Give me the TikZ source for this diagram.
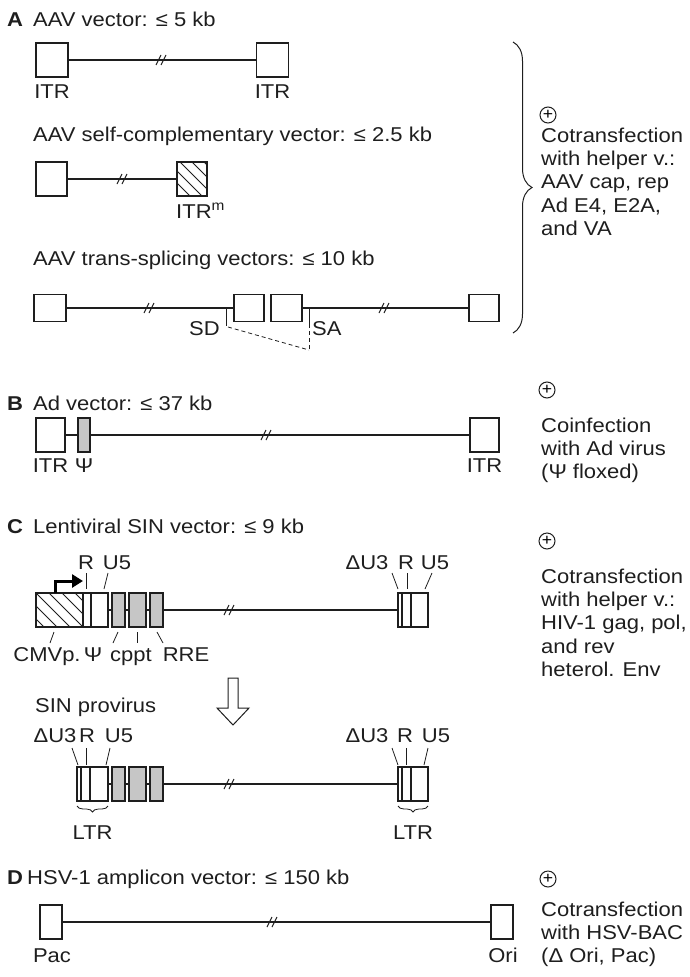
\documentclass[tikz,border=0pt]{standalone}
\usepackage{fontspec}
\setmainfont[FakeStretch=1.1]{Liberation Sans}
\usetikzlibrary{arrows.meta, calc, decorations.pathreplacing}

\definecolor{inkgray}{RGB}{30,30,30}
\definecolor{elemgray}{RGB}{198,198,198}

\tikzset{
    vecbox/.style={rectangle, draw=inkgray, fill=white, line width=1.2pt, inner sep=0pt, minimum width=#1, minimum height=34pt},
    vecbox/.default=31pt,
    greybox/.style={vecbox=#1, fill=elemgray},
    hatchbox/.style 2 args={vecbox=#1, path picture={
        \foreach \k in {#2}
            \draw[line width=1pt, inkgray] ($(path picture bounding box.north west)+(\k pt,0)$) -- ++(60,60);}},
    vecline/.style={draw=inkgray, line width=1.2pt},
    tickline/.style={draw=inkgray, line width=0.8pt},
    splice/.style={draw=inkgray, line width=0.8pt, dash pattern=on 4pt off 3pt},
    vectext/.style={font=\fontsize{20}{23.3}\selectfont, text=inkgray, inner sep=0pt},
    paneltag/.style={vectext, font=\fontsize{20}{23.3}\selectfont\bfseries},
    helpertext/.style={vectext, align=left, anchor=north west},
    plusmark/.style={circle, draw=inkgray, line width=1pt, minimum size=16pt, inner sep=0pt,
        font=\fontsize{16}{16}\selectfont},
    brk/.pic={\draw[inkgray, line width=1.1pt] (-6,5) -- (-1,-5) (-1,5) -- (4,-5);}
}

\begin{document}
\begin{tikzpicture}[x=1pt, y=-1pt]
\useasboundingbox (0,0) rectangle (689,977);

% A: AAV
\node[paneltag, anchor=base west] (tagA) at (7,27) {A};
\node[vectext, anchor=base west] (ttlA1) at (33,27) {AAV vector: ≤ 5 kb};
\node[vecbox=32pt] (a1l) at (52,60) {};
\node[vecbox=32pt] (a1r) at (272.5,60) {};
\draw[vecline] (a1l) -- (a1r);
\pic at (162,60) {brk};
\node[vectext, anchor=base] (itrA1) at (52,98) {ITR};
\node[vectext, anchor=base] (itrA2) at (272.5,98) {ITR};

\node[vectext, anchor=base west] (ttlA2) at (33,141) {AAV self-complementary vector: ≤ 2.5 kb};
\node[vecbox] (a2l) at (51.5,179) {};
\node[hatchbox={30pt}{-33,-21,...,30}] (a2m) at (192,179) {};
\draw[vecline] (a2l) -- (a2m);
\pic at (123,179) {brk};
\node[vectext, anchor=base west] (itrm) at (176,218) {ITR\textsuperscript{m}};

\node[vectext, anchor=base west] (ttlA3) at (33,265) {AAV trans-splicing vectors: ≤ 10 kb};
\node[vecbox=32pt, minimum height=27pt] (a3a) at (50,308) {};
\node[vecbox=30pt, minimum height=27pt] (a3b) at (249,308) {};
\node[vecbox=31pt, minimum height=27pt] (a3c) at (286.5,308) {};
\node[vecbox=30pt, minimum height=27pt] (a3d) at (484,308) {};
\draw[vecline] (a3a) -- (a3b);
\draw[vecline] (a3c) -- (a3d);
\pic at (150,308) {brk};
\pic at (385,308) {brk};
\draw[tickline] (226,308) -- (226,326);
\draw[tickline] (309,308) -- (309,324);
\draw[splice] (228,327) -- (309,350);
\draw[splice] (309,324) -- (309,350);
\node[vectext, anchor=base east] (sd) at (220,335) {SD};
\node[vectext, anchor=base west] (sa) at (312,335) {SA};

\draw[inkgray, line width=1pt, decorate, decoration={brace, amplitude=19pt}] (513,42) -- (513,333);
\node[plusmark] (plusA) at (548,115) {+};
\node[helpertext] (helpA) at (541,127.5) {Cotransfection\\with helper v.:\\AAV cap, rep\\Ad E4, E2A,\\and VA};

% B: Ad
\node[paneltag, anchor=base west] (tagB) at (7,410) {B};
\node[vectext, anchor=base west] (ttlB) at (33,410) {Ad vector: ≤ 37 kb};
\node[vecbox=29pt] (bl) at (50.5,435) {};
\node[greybox=12pt] (bpsi) at (84,435) {};
\node[vecbox=29pt] (br) at (484.5,435) {};
\draw[vecline] (bl) -- (bpsi);
\draw[vecline] (bpsi) -- (br);
\pic at (267,435) {brk};
\node[vectext, anchor=base] (itrB1) at (50.5,472) {ITR};
\node[vectext, anchor=base] (psiB) at (84,472) {Ψ};
\node[vectext, anchor=base] (itrB2) at (484.5,472) {ITR};

\node[plusmark] (plusB) at (547,390) {+};
\node[helpertext] (helpB) at (541,417.5) {Coinfection\\with Ad virus\\(Ψ floxed)};

% C: lentiviral SIN
\node[paneltag, anchor=base west] (tagC) at (7,533) {C};
\node[vectext, anchor=base west] (ttlC) at (33,533) {Lentiviral SIN vector: ≤ 9 kb};
\node[hatchbox={47pt}{-39,-26,...,44}] (cmv) at (59.5,610) {};
\node[vecbox=8pt] (cr) at (87,610) {};
\node[vecbox=17pt] (cu) at (99.5,610) {};
\node[greybox=13pt] (cg1) at (118.5,610) {};
\node[greybox=17pt] (cg2) at (137.5,610) {};
\node[greybox=13pt] (cg3) at (156.5,610) {};
\node[vecbox=4pt] (cd3) at (400,610) {};
\node[vecbox=9pt] (cr3) at (406.5,610) {};
\node[vecbox=17pt] (cu3) at (419.5,610) {};
\draw[vecline] (cu) -- (cg1);
\draw[vecline] (cg1) -- (cg2);
\draw[vecline] (cg2) -- (cg3);
\draw[vecline] (cg3) -- (cd3);
\pic at (230,610) {brk};
\draw[line width=3pt, -{Triangle[length=11pt, width=13pt]}] (55,593) |- (83,581);

\node[vectext, anchor=base] (lR1) at (86,569) {R};
\node[vectext, anchor=base] (lU1) at (117,569) {U5};
\node[vectext, anchor=base] (lD2) at (367,569) {ΔU3};
\node[vectext, anchor=base] (lR2) at (406,569) {R};
\node[vectext, anchor=base] (lU2) at (435,569) {U5};
\draw[tickline] (86,573) -- (86,589);
\draw[tickline] (108,573) -- (104,589);
\draw[tickline] (392,573) -- (398,589);
\draw[tickline] (407,573) -- (407,589);
\draw[tickline] (432,573) -- (425,589);

\draw[tickline] (54,632) -- (50,643);
\draw[tickline] (118,632) -- (113,643);
\draw[tickline] (137,632) -- (137,643);
\draw[tickline] (157,632) -- (163,643);
\node[vectext, anchor=base] (lcmv) at (47,661) {CMVp.};
\node[vectext, anchor=base] (lpsi) at (93,661) {Ψ};
\node[vectext, anchor=base] (lcppt) at (131,661) {cppt};
\node[vectext, anchor=base] (lrre) at (186,661) {RRE};

\node[plusmark] (plusC) at (547,541) {+};
\node[helpertext] (helpC) at (541,568.5) {Cotransfection\\with helper v.:\\HIV-1 gag, pol,\\and rev\\heterol. Env};

% integration
\draw[inkgray, line width=1pt, fill=white] (228,678) -- (238,678) -- (238,708) -- (249,708) -- (233,725) -- (217,708) -- (228,708) -- cycle;

\node[vectext, anchor=base west] (ttlP) at (35,712) {SIN provirus};
\node[vectext, anchor=base] (pD1) at (55,742) {ΔU3};
\node[vectext, anchor=base] (pR1) at (87,742) {R};
\node[vectext, anchor=base] (pU1) at (119,742) {U5};
\node[vectext, anchor=base] (pD2) at (367,742) {ΔU3};
\node[vectext, anchor=base] (pR2) at (405,742) {R};
\node[vectext, anchor=base] (pU2) at (436,742) {U5};
\draw[tickline] (72,748) -- (78,765);
\draw[tickline] (86,748) -- (86,765);
\draw[tickline] (110,748) -- (106,765);
\draw[tickline] (392,748) -- (398,765);
\draw[tickline] (406,748) -- (406,765);
\draw[tickline] (428,748) -- (424,765);

\node[vecbox=4pt] (pd) at (79,784) {};
\node[vecbox=9pt] (pr) at (85.5,784) {};
\node[vecbox=18pt] (pu) at (99,784) {};
\node[greybox=13pt] (pg1) at (118.5,784) {};
\node[greybox=17pt] (pg2) at (137.5,784) {};
\node[greybox=13pt] (pg3) at (156.5,784) {};
\node[vecbox=4pt] (pd3) at (400,784) {};
\node[vecbox=9pt] (pr3) at (406.5,784) {};
\node[vecbox=17pt] (pu3) at (419.5,784) {};
\draw[vecline] (pu) -- (pg1);
\draw[vecline] (pg1) -- (pg2);
\draw[vecline] (pg2) -- (pg3);
\draw[vecline] (pg3) -- (pd3);
\pic at (230,784) {brk};

\draw[tickline, decorate, decoration={brace, amplitude=6pt}] (108,806) -- (77,806);
\draw[tickline, decorate, decoration={brace, amplitude=6pt}] (428,806) -- (398,806);
\node[vectext, anchor=base] (ltr1) at (92.5,839) {LTR};
\node[vectext, anchor=base] (ltr2) at (413,839) {LTR};

% D: HSV-1 amplicon
\node[paneltag, anchor=base west] (tagD) at (7,884) {D};
\node[vectext, anchor=base west] (ttlD) at (27,884) {HSV-1 amplicon vector: ≤ 150 kb};
\node[vecbox=22pt] (dpac) at (51,922) {};
\node[vecbox=22pt] (dori) at (502,922) {};
\draw[vecline] (dpac) -- (dori);
\pic at (273,922) {brk};
\node[vectext, anchor=base] (lpac) at (52,962) {Pac};
\node[vectext, anchor=base] (lori) at (503,962) {Ori};

\node[plusmark] (plusD) at (548,879) {+};
\node[helpertext] (helpD) at (541,901.5) {Cotransfection\\with HSV-BAC\\(Δ Ori, Pac)};

\end{tikzpicture}
\end{document}
